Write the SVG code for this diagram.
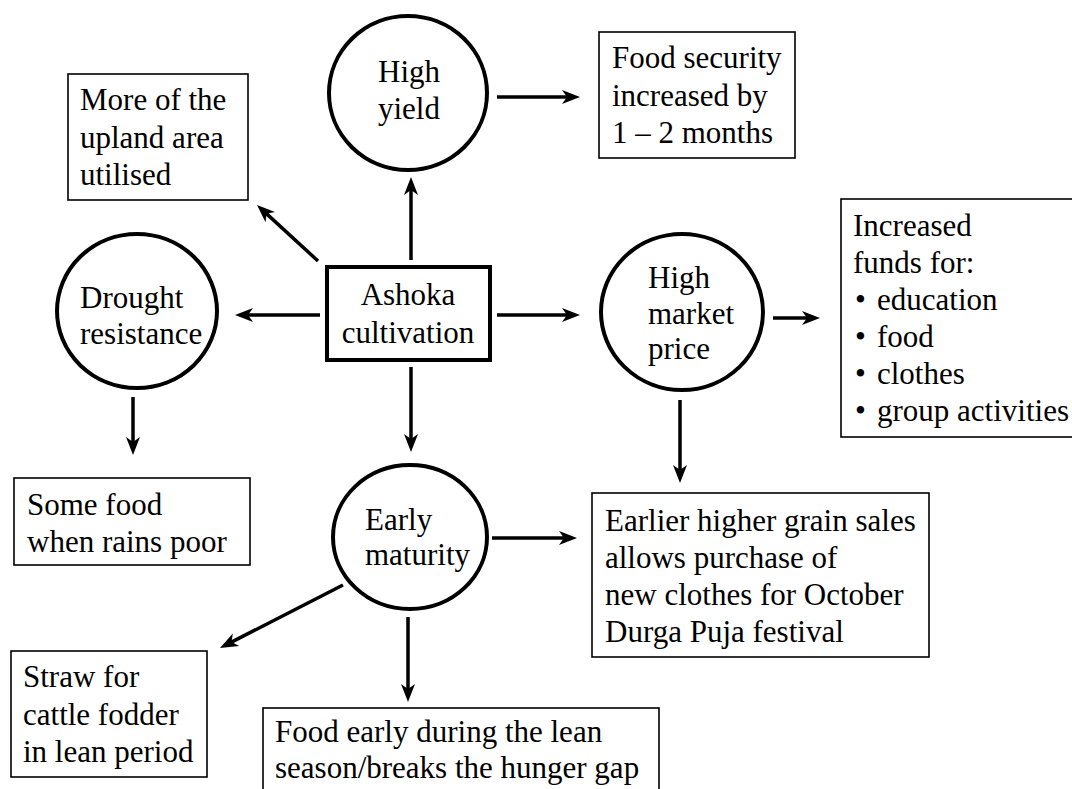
<svg xmlns="http://www.w3.org/2000/svg" width="1072" height="789" viewBox="0 0 1072 789">
<defs>
<style>
text{font-family:"Liberation Serif","Times New Roman",serif;font-size:31px;fill:#000}
.box{fill:#fff;stroke:#000;stroke-width:1.6}
.main{fill:#fff;stroke:#000;stroke-width:4}
.circ{fill:#fff;stroke:#000;stroke-width:4}
.arr{stroke:#000;stroke-width:3.5;fill:none;marker-end:url(#ah)}
</style>
<marker id="ah" markerUnits="userSpaceOnUse" markerWidth="20" markerHeight="18" refX="10" refY="9" orient="auto">
<path d="M0,2 L18,9 L0,16 L5,9 Z" fill="#000"/>
</marker>
</defs>
<rect width="1072" height="789" fill="#fff"/>
<g id="connectors">
<line class="arr" x1="411" y1="260" x2="411" y2="185"/>
<line class="arr" x1="497" y1="97" x2="572" y2="97"/>
<line class="arr" x1="318" y1="261" x2="262.9" y2="210.4"/>
<line class="arr" x1="320" y1="315" x2="243" y2="315"/>
<line class="arr" x1="497" y1="315" x2="572" y2="315"/>
<line class="arr" x1="773" y1="318" x2="812" y2="318"/>
<line class="arr" x1="133" y1="397" x2="133" y2="447"/>
<line class="arr" x1="411" y1="367" x2="411" y2="444"/>
<line class="arr" x1="680" y1="400" x2="680" y2="475"/>
<line class="arr" x1="492" y1="538" x2="569" y2="538"/>
<line class="arr" x1="343" y1="585" x2="227.1" y2="644.4"/>
<line class="arr" x1="408" y1="617" x2="408" y2="694"/>
</g>
<g id="ashoka">
<rect class="main" x="327" y="267" width="163" height="93"/>
<text x="408" y="305" text-anchor="middle">Ashoka</text>
<text x="408" y="343" text-anchor="middle">cultivation</text>
</g>
<g id="high-yield">
<ellipse class="circ" cx="408" cy="93" rx="79" ry="77"/>
<text x="378" y="82">High</text>
<text x="378" y="119">yield</text>
</g>
<g id="food-security">
<rect class="box" x="599" y="32" width="196" height="126"/>
<text x="612" y="68">Food security</text>
<text x="612" y="106">increased by</text>
<text x="612" y="143">1 – 2 months</text>
</g>
<g id="upland">
<rect class="box" x="68" y="74" width="180" height="126"/>
<text x="80" y="110">More of the</text>
<text x="80" y="148">upland area</text>
<text x="80" y="185">utilised</text>
</g>
<g id="drought">
<ellipse class="circ" cx="137" cy="311" rx="80" ry="77"/>
<text x="80" y="308">Drought</text>
<text x="80" y="344">resistance</text>
</g>
<g id="some-food">
<rect class="box" x="14" y="478" width="236" height="87"/>
<text x="27" y="515">Some food</text>
<text x="27" y="552">when rains poor</text>
</g>
<g id="market">
<ellipse class="circ" cx="682" cy="312" rx="81" ry="78"/>
<text x="648" y="288">High</text>
<text x="648" y="324">market</text>
<text x="648" y="359">price</text>
</g>
<g id="funds">
<rect class="box" x="841" y="199" width="240" height="238"/>
<text x="853" y="236">Increased</text>
<text x="853" y="273">funds for:</text>
<text y="310"><tspan x="855">•</tspan><tspan x="877">education</tspan></text>
<text y="347"><tspan x="855">•</tspan><tspan x="877">food</tspan></text>
<text y="384"><tspan x="855">•</tspan><tspan x="877">clothes</tspan></text>
<text y="421"><tspan x="855">•</tspan><tspan x="877">group activities</tspan></text>
</g>
<g id="early">
<ellipse class="circ" cx="410" cy="537" rx="77" ry="72"/>
<text x="365" y="530">Early</text>
<text x="365" y="565">maturity</text>
</g>
<g id="earlier">
<rect class="box" x="592" y="493" width="337" height="164"/>
<text x="605" y="531">Earlier higher grain sales</text>
<text x="605" y="568">allows purchase of</text>
<text x="605" y="605">new clothes for October</text>
<text x="605" y="642">Durga Puja festival</text>
</g>
<g id="straw">
<rect class="box" x="11" y="651" width="196" height="126"/>
<text x="23" y="687">Straw for</text>
<text x="23" y="725">cattle fodder</text>
<text x="23" y="762">in lean period</text>
</g>
<g id="food-early">
<rect class="box" x="263" y="708" width="396" height="100"/>
<text x="275" y="742">Food early during the lean</text>
<text x="275" y="778">season/breaks the hunger gap</text>
</g>
</svg>
